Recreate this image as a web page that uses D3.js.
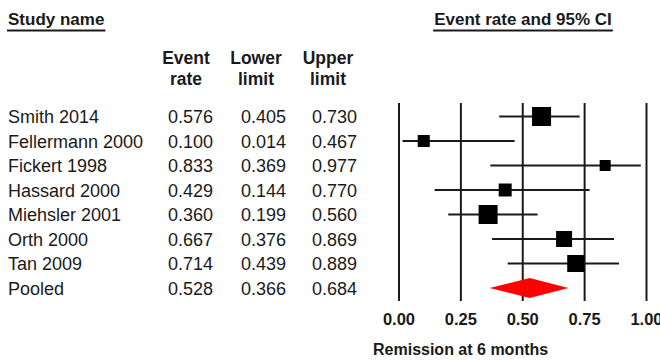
<!DOCTYPE html>
<html>
<head>
<meta charset="utf-8">
<script src="https://cdn.jsdelivr.net/npm/d3@7"></script>
<style>
  body { margin: 0; background: #fff; }
  svg { display: block; font-family: Arial, "Liberation Sans", sans-serif; }
</style>
</head>
<body>
<div id="chart"></div>
<script>
// Study data
const studies = ['Smith 2014', 'Fellermann 2000', 'Fickert 1998', 'Hassard 2000', 'Miehsler 2001', 'Orth 2000', 'Tan 2009'];
const eventRate = [0.576, 0.100, 0.833, 0.429, 0.360, 0.667, 0.714];
const lowerLimit = [0.405, 0.014, 0.369, 0.144, 0.199, 0.376, 0.439];
const upperLimit = [0.730, 0.467, 0.977, 0.770, 0.560, 0.869, 0.889];
const weights = [21.2, 8.5, 7.1, 9.9, 21.2, 15.0, 17.0];
const pooled = { name: 'Pooled', rate: 0.528, lower: 0.366, upper: 0.684 };
const xTicks = [0, 0.25, 0.5, 0.75, 1];

const width = 660, height = 362;
const ink = '#1a1a1a';

const svg = d3.select('#chart').append('svg')
    .attr('width', width)
    .attr('height', height);

const rowNames = studies.concat([pooled.name]);
const y = d3.scalePoint()
    .domain(rowNames)
    .range([116.5, 288]);

const x = d3.scaleLinear()
    .domain([0, 1])
    .range([399, 646.5]);

const size = d3.scaleSqrt()
    .domain([0, d3.max(weights)])
    .range([0, 19]);

// Headers
function underlinedTitle(txt, tx, anchor) {
    const t = svg.append('text')
        .attr('x', tx).attr('y', 25)
        .attr('text-anchor', anchor)
        .attr('font-size', 17)
        .attr('font-weight', 'bold')
        .attr('fill', ink)
        .text(txt);
    const bb = t.node().getBBox();
    svg.append('line')
        .attr('x1', bb.x - 1).attr('x2', bb.x + bb.width + 1)
        .attr('y1', 30.5).attr('y2', 30.5)
        .attr('stroke', ink).attr('stroke-width', 2);
}
underlinedTitle('Study name', 8, 'start');
underlinedTitle('Event rate and 95% CI', 523, 'middle');

const cols = [
    { top: 'Event', bottom: 'rate', cx: 186, end: 213, vals: eventRate, pv: pooled.rate },
    { top: 'Lower', bottom: 'limit', cx: 256, end: 286, vals: lowerLimit, pv: pooled.lower },
    { top: 'Upper', bottom: 'limit', cx: 328, end: 357, vals: upperLimit, pv: pooled.upper }
];

cols.forEach(c => {
    [c.top, c.bottom].forEach((s, i) => {
        svg.append('text')
            .attr('x', c.cx).attr('y', i === 0 ? 64 : 85)
            .attr('text-anchor', 'middle')
            .attr('font-size', 17.5)
            .attr('font-weight', 'bold')
            .attr('fill', ink)
            .text(s);
    });
    svg.selectAll(null)
        .data(c.vals.concat([c.pv]))
        .enter().append('text')
        .attr('x', c.end)
        .attr('y', (d, i) => y(rowNames[i]) + 6.5)
        .attr('text-anchor', 'end')
        .attr('font-size', 18)
        .attr('fill', ink)
        .text(d => d3.format('.3f')(d));
});

svg.selectAll('.name')
    .data(rowNames)
    .enter().append('text')
    .attr('class', 'name')
    .attr('x', 8)
    .attr('y', d => y(d) + 6.5)
    .attr('font-size', 18)
    .attr('fill', ink)
    .text(d => d);

// Vertical grid lines at ticks
svg.selectAll('.vline')
    .data(xTicks)
    .enter().append('line')
    .attr('x1', d => x(d)).attr('x2', d => x(d))
    .attr('y1', 103).attr('y2', 301)
    .attr('stroke', ink)
    .attr('stroke-width', 2);

// Tick labels
svg.selectAll('.tick')
    .data(xTicks)
    .enter().append('text')
    .attr('x', d => x(d))
    .attr('y', 325)
    .attr('text-anchor', 'middle')
    .attr('font-size', 16.5)
    .attr('font-weight', 'bold')
    .attr('fill', ink)
    .text(d => d3.format('.2f')(d));

svg.append('text')
    .attr('x', 373).attr('y', 355)
    .attr('font-size', 16)
    .attr('font-weight', 'bold')
    .attr('fill', ink)
    .text('Remission at 6 months');

// CI lines
svg.selectAll('.ci')
    .data(studies)
    .enter().append('line')
    .attr('x1', (d, i) => x(lowerLimit[i]))
    .attr('x2', (d, i) => x(upperLimit[i]))
    .attr('y1', d => y(d)).attr('y2', d => y(d))
    .attr('stroke', ink)
    .attr('stroke-width', 2);

// Squares
svg.selectAll('.sq')
    .data(studies)
    .enter().append('rect')
    .attr('x', (d, i) => x(eventRate[i]) - size(weights[i]) / 2)
    .attr('y', (d, i) => y(d) - size(weights[i]) / 2)
    .attr('width', (d, i) => size(weights[i]))
    .attr('height', (d, i) => size(weights[i]))
    .attr('fill', '#000');

// Pooled diamond
const py = y(pooled.name);
svg.append('path')
    .attr('d', `M${x(pooled.lower)},${py} L${x(pooled.rate)},${py - 10} L${x(pooled.upper)},${py} L${x(pooled.rate)},${py + 10} Z`)
    .attr('fill', '#f00');
</script>
</body>
</html>
